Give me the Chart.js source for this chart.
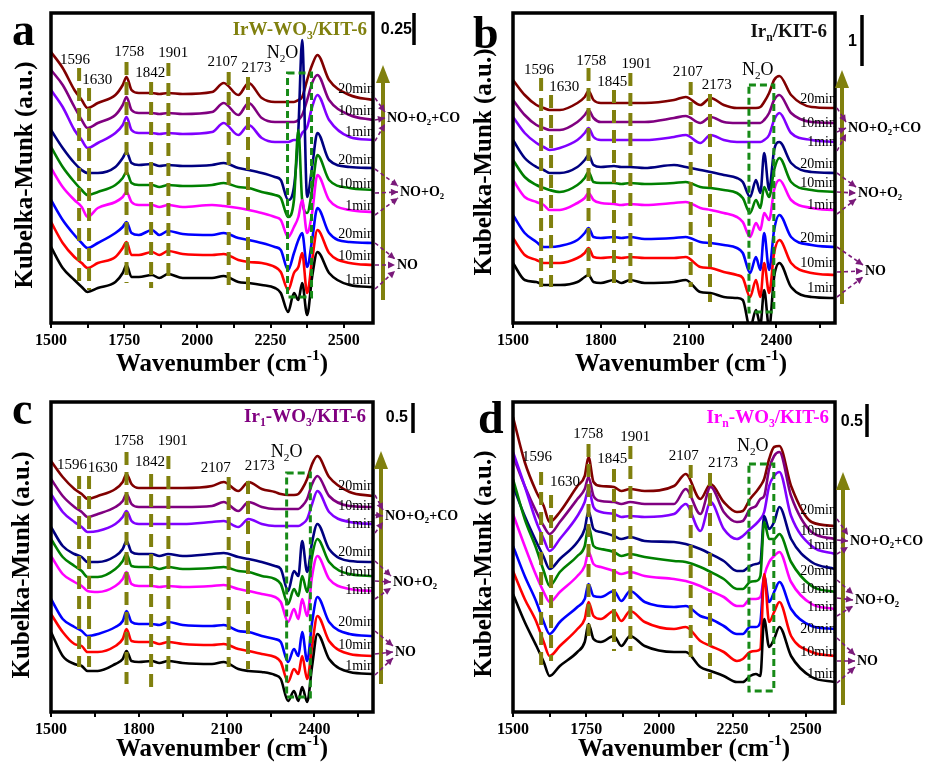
<!DOCTYPE html>
<html>
<head>
<meta charset="utf-8">
<script src="https://cdn.jsdelivr.net/npm/chart.js@4.4.0/dist/chart.umd.min.js"></script>
<style>
  body { margin: 0; background: #fff; width: 928px; height: 778px; overflow: hidden; position: relative; }
  canvas { position: absolute; }
</style>
</head>
<body>
<canvas id="pa" width="464" height="389" style="left:0;top:0"></canvas>
<canvas id="pb" width="464" height="389" style="left:462px;top:0"></canvas>
<canvas id="pc" width="464" height="389" style="left:0;top:389px"></canvas>
<canvas id="pd" width="464" height="389" style="left:462px;top:389px"></canvas>
<script>
// wavenumber grid (cm-1) shared by every spectrum
const wavenumbers = [1500,1540,1580,1605,1625,1660,1720,1745,1758,1775,1800,1845,1870,1900,1950,2050,2090,2140,2175,2220,2265,2285,2310,2330,2345,2358,2375,2392,2410,2450,2520,2600];

const timeLabels = ['1min', '10min', '20min'];
const gasLabels = ['NO', 'NO+O_2', 'NO+O_2+CO'];

// a : IrW-WO3/KIT-6
const aNO1  = [76,55,43,36,31,35,41,50,58,46,46,48,45,49,45,45,47,41,40,38,35,30,11,30,23,40,8,46,71,50,38,36];
const aNO10 = [101,80,66,60,55,60,66,75,81,68,68,71,68,72,69,68,69,63,61,60,56,51,33,50,56,70,30,63,93,70,60,58];
const aNO20 = [123,103,88,80,75,80,90,96,101,90,88,93,88,92,89,88,90,85,83,80,76,73,53,70,83,90,56,83,115,90,81,80];
const aOx1  = [155,136,123,116,106,115,121,126,131,121,118,118,116,118,116,118,117,115,113,110,106,103,86,96,106,123,90,110,148,123,113,111];
const aOx10 = [176,156,141,133,128,131,138,145,151,140,138,138,136,138,137,138,140,136,135,131,128,125,106,123,193,123,110,133,168,143,135,133];
const aOx20 = [193,175,160,153,150,150,156,165,171,160,158,159,157,158,157,158,160,155,153,150,146,143,123,136,193,283,126,156,190,163,156,155];
const aCO1  = [233,216,193,183,175,180,190,198,206,193,190,190,189,190,189,191,200,188,198,185,181,181,181,183,183,190,196,216,228,203,186,183];
const aCO10 = [253,238,216,203,195,200,208,218,226,213,210,210,209,210,209,211,220,208,220,205,201,201,201,201,203,208,223,240,248,223,208,203];
const aCO20 = [271,255,233,223,215,220,228,238,246,233,230,230,229,230,229,231,240,228,240,225,221,221,221,221,223,226,243,258,268,243,228,223];

// b : Irn/KIT-6
const bNO1  = [60,43,41,38,38,38,41,46,48,41,40,43,40,43,40,41,43,31,30,26,25,23,-5,13,-2,33,-5,46,60,36,26,25];
const bNO10 = [85,68,63,60,60,60,65,70,75,66,65,66,65,66,65,65,66,56,55,51,48,45,26,43,26,60,30,70,83,60,50,48];
const bNO20 = [108,90,81,76,76,77,83,90,95,86,85,86,85,86,84,85,86,81,80,78,75,70,50,66,53,90,53,93,108,86,78,76];
const bOx1  = [143,126,121,118,113,113,120,125,130,123,120,119,118,119,118,120,121,115,113,110,106,101,86,100,93,110,103,133,143,123,115,113];
const bOx10 = [163,146,138,135,133,131,138,145,151,141,140,140,139,140,139,140,141,136,135,133,130,125,110,123,115,136,126,153,165,141,133,131];
const bOx20 = [183,165,156,153,150,150,156,163,168,158,156,157,156,156,155,158,156,153,151,148,145,141,126,143,130,170,133,173,181,160,151,150];
const bCO1  = [206,190,180,176,173,175,183,190,195,186,183,183,183,183,183,186,188,180,188,183,181,181,181,181,181,183,188,203,210,190,183,181];
const bCO10 = [223,208,198,195,193,193,201,208,213,205,201,201,201,201,201,205,207,200,206,201,200,200,200,200,200,203,210,223,228,210,201,200];
const bCO20 = [243,228,218,215,213,213,220,226,232,223,220,220,220,220,220,223,226,218,225,218,215,215,215,215,216,221,230,243,247,228,216,215];

// c : Ir1-WO3/KIT-6
const cNO1  = [80,56,48,46,41,41,48,53,61,51,50,51,49,51,49,48,50,43,41,40,37,33,11,21,11,25,10,46,78,53,40,38];
const cNO10 = [98,80,68,66,60,60,66,73,83,71,70,70,68,70,68,67,68,63,61,58,55,50,30,43,38,56,33,66,96,71,58,56];
const cNO20 = [113,93,85,81,76,78,85,91,101,90,88,88,87,90,87,86,87,81,80,76,73,70,50,63,56,80,51,90,115,90,78,76];
const cOx1  = [156,138,130,126,121,120,126,133,140,128,126,126,125,126,125,126,127,123,121,118,115,110,90,103,93,113,96,136,156,133,123,121];
const cOx10 = [173,155,146,141,135,135,143,151,158,146,145,145,143,145,143,144,145,141,140,136,133,128,108,123,116,136,120,156,173,150,138,136];
const cOx20 = [185,166,158,155,150,150,156,163,171,160,158,158,156,158,156,158,159,155,153,150,146,143,121,141,136,171,140,170,188,163,151,150];
const cCO1  = [218,200,190,185,180,181,188,195,201,191,188,188,188,188,188,190,191,185,193,188,186,186,186,186,186,188,193,208,221,200,190,188];
const cCO10 = [233,216,205,200,195,198,205,211,218,208,205,205,205,205,205,206,210,201,210,205,203,203,203,203,203,206,213,228,236,216,206,205];
const cCO20 = [251,235,223,218,213,216,223,230,238,228,224,224,224,224,224,226,230,221,230,223,220,218,217,217,218,223,233,248,256,235,220,216];

// d : Irn-WO3/KIT-6
const dNO1  = [118,90,66,50,36,46,60,70,88,73,70,76,66,76,66,60,60,45,41,36,30,30,36,38,36,93,65,73,85,56,35,30];
const dNO10 = [141,113,90,70,56,66,83,93,110,96,93,101,91,101,90,83,85,71,66,60,51,53,60,61,63,138,90,100,110,76,60,56];
const dNO20 = [166,136,110,90,78,90,105,113,128,116,115,121,111,121,110,105,106,96,93,86,78,78,85,85,90,136,110,120,130,103,86,83];
const dOx1  = [198,166,136,120,110,120,136,146,160,148,145,141,138,140,136,133,131,126,121,115,106,106,113,113,115,136,150,156,160,130,108,103];
const dOx10 = [233,193,163,141,126,140,156,166,186,166,163,160,156,158,155,151,150,145,140,133,123,123,130,131,136,190,173,173,178,150,126,120];
const dOx20 = [226,196,170,155,143,153,170,183,201,183,180,176,173,175,171,170,168,163,158,151,141,141,146,148,150,196,183,190,205,173,150,143];
const dCO1  = [260,226,190,173,161,173,196,210,223,205,200,198,195,196,195,198,208,181,210,183,173,176,183,188,193,200,226,236,240,196,166,158];
const dCO10 = [256,226,200,186,178,190,213,223,235,216,211,210,208,210,208,208,223,198,225,200,190,191,203,206,213,216,243,256,260,216,180,173];
const dCO20 = [295,250,220,206,190,200,226,236,255,230,226,225,221,223,221,226,238,213,228,210,200,201,213,220,226,233,253,265,266,226,190,186];

const bandsA = [1596, 1630, 1758, 1842, 1901, 2107, 2173];
const bandsB = [1596, 1630, 1758, 1845, 1901, 2107, 2173];
const bandsC = [1596, 1630, 1758, 1842, 1901, 2107, 2173];
const bandsD = [1596, 1630, 1758, 1845, 1901, 2107, 2173];

const SERIF = '"Liberation Serif", "DejaVu Serif", serif';
const SANS = '"Liberation Sans", Arial, sans-serif';
const OLIVE = '#80800e';
const GREEN = '#178a17';
const PURPLE = '#7a1a7a';
const colors = ['#000000', '#ff0000', '#0000ff', '#ff00ff', '#008000', '#000080', '#8000ff', '#800080', '#800000'];

const panels = [
  { id: 'pa', letter: 'a', letterXY: [12, 45], yTitle: [26, 175], xTitle: [10, 42],
    major: [1500, 1750, 2000, 2250, 2500], step: 125,
    series: [aNO1, aNO10, aNO20, aOx1, aOx10, aOx20, aCO1, aCO10, aCO20],
    bands: bandsA, bandTop: [255, 235, 261, 241, 260, 251, 246], bandBot: [36, 33, 40, 35, 43, 33, 33],
    bandXY: [[1582, 263], [1658, 243], [1767, 271], [1839, 250], [1918, 270], [2086, 261], [2202, 255]],
    box: [2308, 2390, 250, 26], n2o: [2291, 270],
    title: 'IrW-WO_3/KIT-6', titleColor: OLIVE, titleD: [-6, 17],
    timeY: [43, 67, 89, 117, 139, 163, 191, 212, 234], gasY: [58, 131, 205], gasDX: [24, 27, 14],
    olive: [10, 23, 258], scale: ['0.25', 39, 17, 41, 0, 32] },
  { id: 'pb', letter: 'b', letterXY: [11, 48], yTitle: [23, 162], xTitle: [7, 42],
    major: [1500, 1800, 2100, 2400], step: 150,
    series: [bNO1, bNO10, bNO20, bOx1, bOx10, bOx20, bCO1, bCO10, bCO20],
    bands: bandsB, bandTop: [245, 228, 255, 233, 250, 241, 229], bandBot: [36, 36, 46, 35, 40, 36, 21],
    bandXY: [[1589, 253], [1675, 236], [1767, 262], [1839, 241], [1922, 259], [2097, 251], [2196, 238]],
    box: [2306, 2391, 238, 11], n2o: [2336, 253],
    title: 'Ir_n/KIT-6', titleColor: '#111111', titleD: [-8, 19],
    timeY: [35, 60, 85, 118, 140, 159, 181, 200, 224], gasY: [52, 130, 195], gasDX: [30, 23, 13],
    olive: [7, 19, 253], scale: ['1', 22, 29, 27, 2, 53] },
  { id: 'pc', letter: 'c', letterXY: [12, 35], yTitle: [23, 176], xTitle: [10, 38],
    major: [1500, 1800, 2100, 2400], step: 150,
    series: [cNO1, cNO10, cNO20, cOx1, cOx10, cOx20, cCO1, cCO10, cCO20],
    bands: bandsC, bandTop: [236, 236, 260, 238, 256, 235, 231], bandBot: [45, 45, 28, 21, 38, 45, 43],
    bandXY: [[1572, 247], [1677, 244], [1766, 271], [1838, 250], [1916, 271], [2063, 244], [2213, 246]],
    box: [2305, 2386, 239, 15], n2o: [2305, 260],
    title: 'Ir_1-WO_3/KIT-6', titleColor: '#800080', titleD: [-7, 15],
    timeY: [46, 67, 90, 122, 140, 160, 188, 206, 226], gasY: [60, 130, 196], gasDX: [22, 20, 12],
    olive: [8, 28, 261], scale: ['0.5', 35, 16, 40, 1, 31] },
  { id: 'pd', letter: 'd', letterXY: [16, 44], yTitle: [23, 175], xTitle: [10, 38],
    major: [1500, 1750, 2000, 2250, 2500], step: 125,
    series: [dNO1, dNO10, dNO20, dOx1, dOx10, dOx20, dCO1, dCO10, dCO20],
    bands: bandsD, bandTop: [240, 217, 268, 243, 266, 247, 239], bandBot: [46, 51, 76, 61, 61, 55, 33],
    bandXY: [[1582, 255], [1678, 230], [1757, 278], [1839, 253], [1918, 275], [2083, 256], [2217, 249]],
    box: [2306, 2391, 248, 21], n2o: [2319, 266],
    title: 'Ir_n-WO_3/KIT-6', titleColor: '#ff00ff', titleD: [-6, 16],
    timeY: [38, 60, 83, 105, 123, 141, 167, 181, 202], gasY: [51, 112, 171], gasDX: [22, 20, 15],
    olive: [8, 7, 240], scale: ['0.5', 28, 20, 32, 2, 35] }
];

// text with _x subscripts and ^{..} superscripts
function rich(ctx, str, x, y, size, weight, color, align, family) {
  family = family || SERIF;
  const segs = [];
  let buf = '';
  for (let i = 0; i < str.length; i++) {
    const c = str[i];
    if ((c === '_' || c === '^') && i + 1 < str.length) {
      if (buf) { segs.push([buf, 0]); buf = ''; }
      let t;
      if (str[i + 1] === '{') { const j = str.indexOf('}', i); t = str.slice(i + 2, j); i = j; }
      else { t = str[i + 1]; i++; }
      segs.push([t, c === '_' ? 1 : -1]);
    } else buf += c;
  }
  if (buf) segs.push([buf, 0]);
  const f = s => `${weight} ${s}px ${family}`;
  const small = size * 0.62;
  let w = 0;
  segs.forEach(([t, m]) => { ctx.font = f(m ? small : size); w += ctx.measureText(t).width; });
  let cx = align === 'center' ? x - w / 2 : align === 'right' ? x - w : x;
  ctx.fillStyle = color;
  ctx.textBaseline = 'middle';
  ctx.textAlign = 'left';
  segs.forEach(([t, m]) => {
    ctx.font = f(m ? small : size);
    ctx.fillText(t, cx, y + (m === 1 ? size * 0.32 : m === -1 ? -size * 0.36 : 0));
    cx += ctx.measureText(t).width;
  });
}

function arrowHead(ctx, x0, y0, x1, y1, len, wid, color) {
  const a = Math.atan2(y1 - y0, x1 - x0);
  ctx.fillStyle = color;
  ctx.beginPath();
  ctx.moveTo(x1, y1);
  ctx.lineTo(x1 - len * Math.cos(a) + wid * Math.sin(a), y1 - len * Math.sin(a) - wid * Math.cos(a));
  ctx.lineTo(x1 - len * Math.cos(a) - wid * Math.sin(a), y1 - len * Math.sin(a) + wid * Math.cos(a));
  ctx.closePath();
  ctx.fill();
}

function annotate(p) {
  return {
    id: 'ann_' + p.id,
    afterDatasetsDraw(chart) {
      const { ctx, chartArea: ca, scales: { x, y } } = chart;
      const X = v => x.getPixelForValue(v), Y = v => y.getPixelForValue(v);
      ctx.save();

      // band markers
      ctx.strokeStyle = OLIVE; ctx.lineWidth = 4; ctx.setLineDash([13, 7]);
      p.bands.forEach((b, i) => {
        ctx.beginPath();
        ctx.moveTo(X(b), Y(p.bandTop[i]));
        ctx.lineTo(X(b), Y(p.bandBot[i]));
        ctx.stroke();
      });
      // N2O box
      ctx.strokeStyle = GREEN; ctx.lineWidth = 3; ctx.setLineDash([7, 4]);
      ctx.strokeRect(X(p.box[0]), Y(p.box[2]), X(p.box[1]) - X(p.box[0]), Y(p.box[3]) - Y(p.box[2]));
      ctx.setLineDash([]);

      p.bands.forEach((b, i) => rich(ctx, String(b), X(p.bandXY[i][0]), Y(p.bandXY[i][1]), 15, 'normal', '#000', 'center'));
      rich(ctx, 'N_2O', X(p.n2o[0]), Y(p.n2o[1]), 18, 'normal', '#000', 'center');
      rich(ctx, p.title, ca.right + p.titleD[0], ca.top + p.titleD[1], 19, 'bold', p.titleColor, 'right');
      p.timeY.forEach((t, i) => rich(ctx, timeLabels[i % 3], ca.right + 1, Y(t), 14, 'normal', '#000', 'right'));

      // frame
      ctx.strokeStyle = '#000'; ctx.lineWidth = 3.5;
      ctx.strokeRect(ca.left, ca.top, ca.right - ca.left, ca.bottom - ca.top);

      // olive time arrow
      const ox = ca.right + p.olive[0];
      ctx.strokeStyle = OLIVE; ctx.lineWidth = 4;
      ctx.beginPath(); ctx.moveTo(ox, Y(p.olive[1])); ctx.lineTo(ox, Y(p.olive[2]) + 14); ctx.stroke();
      arrowHead(ctx, ox, Y(p.olive[1]), ox, Y(p.olive[2]), 18, 7, OLIVE);

      // gas arrows and labels
      p.gasY.forEach((g, k) => {
        const tipX = ca.right + p.gasDX[k] - 2;
        [1, 0, -1].forEach((d, j) => {
          const sx = ca.right + 2, sy = Y(p.timeY[k * 3 + j] - 9);
          const tx = tipX, ty = Y(g) + d * 6;
          ctx.strokeStyle = PURPLE; ctx.lineWidth = 1.6; ctx.setLineDash([4, 3]);
          ctx.beginPath(); ctx.moveTo(sx, sy); ctx.lineTo(tx, ty); ctx.stroke();
          ctx.setLineDash([]);
          arrowHead(ctx, sx, sy, tx, ty, 7, 3.5, PURPLE);
        });
        rich(ctx, gasLabels[k], ca.right + p.gasDX[k], Y(g), 14, 'bold', '#000', 'left');
      });

      // scale bar
      const s = p.scale;
      rich(ctx, s[0], ca.right + s[1], ca.top + s[2], 16, 'bold', '#000', 'right', SANS);
      ctx.strokeStyle = '#000'; ctx.lineWidth = 3.5;
      ctx.beginPath(); ctx.moveTo(ca.right + s[3], ca.top + s[4]); ctx.lineTo(ca.right + s[3], ca.top + s[5]); ctx.stroke();

      // axis titles and panel letter
      rich(ctx, 'Wavenumber (cm^{-1})', (ca.left + ca.right) / 2 + p.xTitle[0], ca.bottom + p.xTitle[1], 25, 'bold', '#000', 'center');
      ctx.save();
      ctx.translate(p.yTitle[0], p.yTitle[1]);
      ctx.rotate(-Math.PI / 2);
      rich(ctx, 'Kubelka-Munk (a.u.)', 0, 0, 25, 'bold', '#000', 'center');
      ctx.restore();
      ctx.font = `bold 46px ${SERIF}`; ctx.fillStyle = '#000';
      ctx.textBaseline = 'alphabetic'; ctx.textAlign = 'left';
      ctx.fillText(p.letter, p.letterXY[0], p.letterXY[1]);
      ctx.restore();
    }
  };
}

panels.forEach(p => {
  const tickVals = [];
  for (let v = 1500; v <= 2600; v += p.step) tickVals.push(v);
  new Chart(document.getElementById(p.id), {
    type: 'line',
    data: {
      datasets: p.series.map((s, i) => ({
        data: s.map((v, k) => ({ x: wavenumbers[k], y: v })),
        borderColor: colors[i],
        borderWidth: 2.6,
        pointRadius: 0,
        fill: false,
        cubicInterpolationMode: 'monotone'
      }))
    },
    options: {
      responsive: false,
      animation: false,
      events: [],
      layout: { padding: { left: 51, right: 91, top: 13, bottom: 0 } },
      plugins: { legend: { display: false }, tooltip: { enabled: false } },
      scales: {
        x: {
          type: 'linear', min: 1500, max: 2600,
          afterBuildTicks: s => { s.ticks = tickVals.map(v => ({ value: v })); },
          afterFit: s => { s.height = 66; },
          ticks: {
            callback: v => p.major.includes(v) ? String(v) : '',
            font: { family: SERIF, size: 16, weight: 'bold' },
            color: '#000', padding: 3, maxRotation: 0, autoSkip: false
          },
          grid: { drawOnChartArea: false, drawTicks: true, tickLength: 5, color: '#000', lineWidth: 2 },
          border: { display: false }
        },
        y: { display: false, min: 0, max: 310 }
      }
    },
    plugins: [annotate(p)]
  });
});
</script>
</body>
</html>
